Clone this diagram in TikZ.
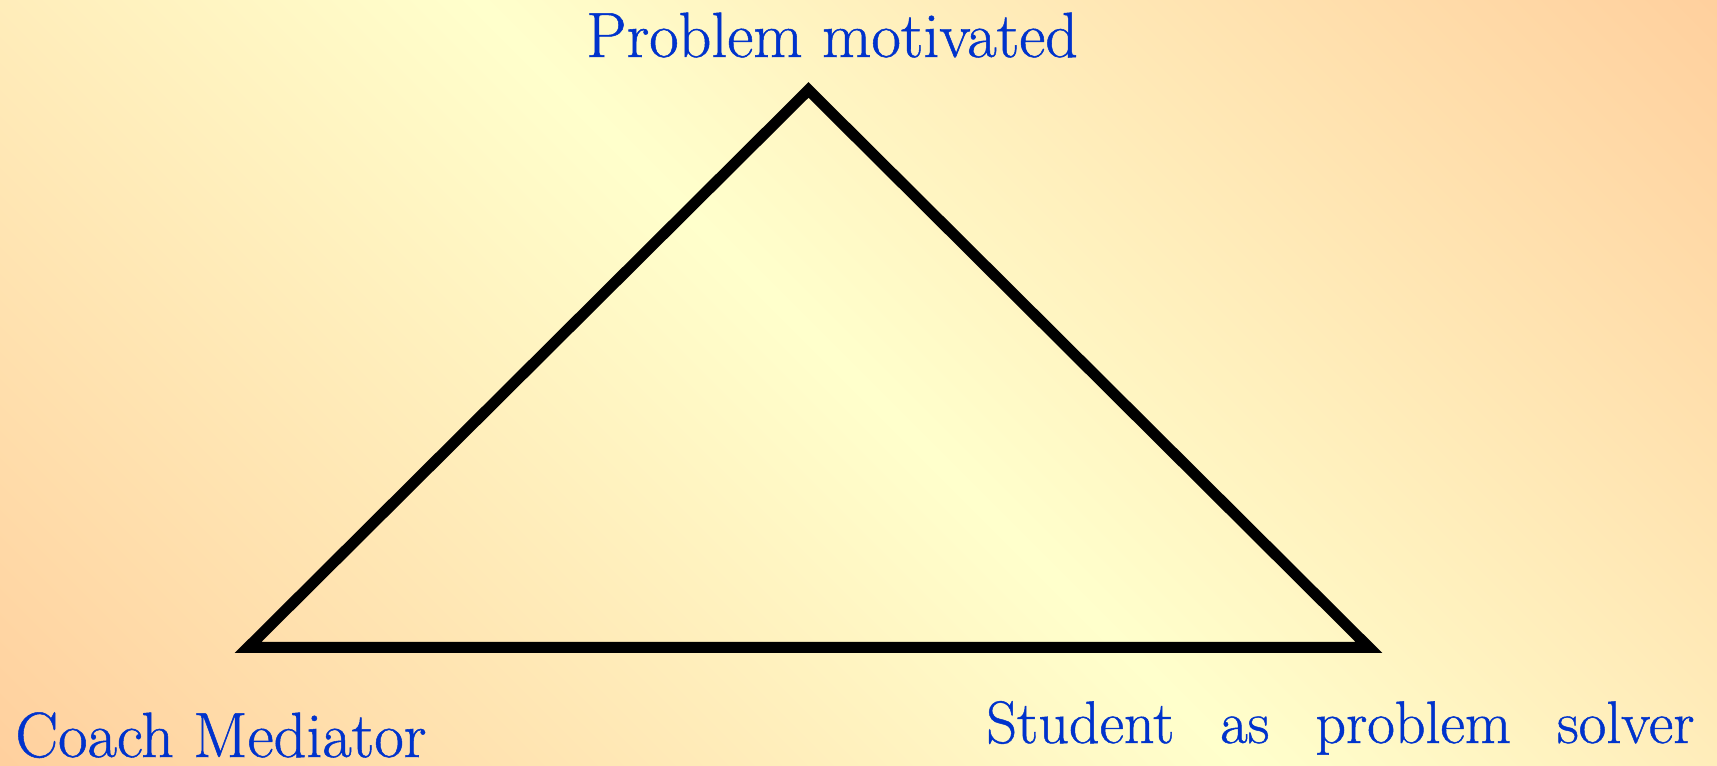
\documentclass[tikz,border=0pt]{standalone}
\usepackage{fontspec}
\newfontfamily\labelfont[FakeBold=0.8]{Latin Modern Roman}
\usepackage{tikz}

% Colours of the slide background and of the labels
\definecolor{bgcorner}{RGB}{255,208,158}
\definecolor{bgmid}{RGB}{255,255,204}
\definecolor{labelblue}{RGB}{0,51,204}

% Diagonal shading: orange corners, pale yellow band in the middle
\pgfdeclarehorizontalshading{bgshade}{100bp}{color(0bp)=(bgcorner); color(14.6bp)=(bgcorner); color(50bp)=(bgmid); color(85.4bp)=(bgcorner); color(100bp)=(bgcorner)}

\tikzset{
    cornerlabel/.style={text=labelblue, inner sep=0pt, anchor=base west, font=\labelfont\fontsize{32}{38}\selectfont}
}

\begin{document}
\begin{tikzpicture}[x=0.5pt, y=0.5pt]

    % Background
    \shade[shading=bgshade, shading angle=45] (0,0) rectangle (1717,765);
    \useasboundingbox (0,0) rectangle (1717,765);

    % Triangle vertices
    \coordinate (Top) at (808.5, 675);
    \coordinate (Left) at (248, 117.5);
    \coordinate (Right) at (1369, 117.5);

    % Triangle
    \draw[black, line width=5.5pt, miter limit=10] (Left) -- (Top) -- (Right) -- cycle;

    % Labels
    \node[cornerlabel] (problem) at (586, 708) {Problem motivated};
    \node[cornerlabel] (coach) at (15, 8) {Coach Mediator};
    \node[cornerlabel, font=\labelfont\fontsize{30}{36}\selectfont] (student) at (986, 22)
        {\makebox[354pt][s]{Student as problem solver}};

\end{tikzpicture}
\end{document}
